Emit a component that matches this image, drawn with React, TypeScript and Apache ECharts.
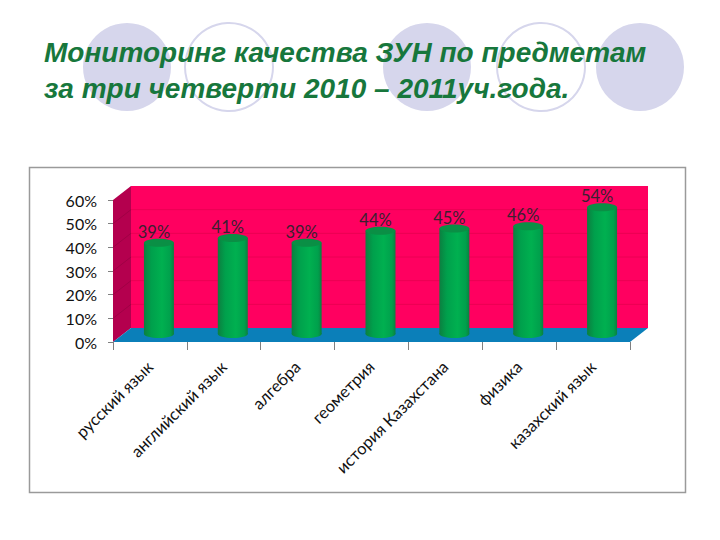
import React, { useEffect, useRef } from "react";
import * as echarts from "echarts";

const titleLines = ["Мониторинг качества ЗУН по предметам", "за три четверти 2010 – 2011уч.года."];
const categories = ["русский язык", "английский язык", "алгебра", "геометрия", "история Казахстана", "физика", "казахский язык"];
const values = [39, 41, 39, 44, 45, 46, 54];
const yTicks = [0, 10, 20, 30, 40, 50, 60];
const decorCircles = [
  { cx: 127, filled: true },
  { cx: 229, filled: false },
  { cx: 427, filled: true },
  { cx: 541, filled: false },
  { cx: 640, filled: true },
];

const DX = 18;
const DY = 14;
const BAR_W = 30;
const BAR_RY = 4;
const FONT = "Lato, 'Noto Sans', sans-serif";

export default function App() {
  const ref = useRef<HTMLDivElement>(null);
  useEffect(() => {
    const chart = echarts.init(ref.current!, null, { renderer: "svg" });

    const renderFrame = (params: any, api: any) => {
      const c = params.coordSys;
      const l = c.x, r = c.x + c.width, t = c.y, b = c.y + c.height;
      const children: any[] = [
        { type: "polygon", shape: { points: [[l + DX, t - DY], [r + DX, t - DY], [r + DX, b - DY], [l + DX, b - DY]] }, style: { fill: "#ff0060" } },
        { type: "polygon", shape: { points: [[l, t], [l + DX, t - DY], [l + DX, b - DY], [l, b]] }, style: { fill: "#b4004e" } },
        { type: "polygon", shape: { points: [[l, b], [l + DX, b - DY], [r + DX, b - DY], [r, b]] }, style: { fill: "#0b7fb9" } },
      ];
      yTicks.slice(1, -1).forEach((v) => {
        const y = api.coord([0, v])[1];
        children.push({ type: "line", shape: { x1: l + DX, y1: y - DY, x2: r + DX, y2: y - DY }, style: { stroke: "#ea0052", lineWidth: 1 } });
        children.push({ type: "line", shape: { x1: l, y1: y, x2: l + DX, y2: y - DY }, style: { stroke: "#a00045", lineWidth: 1 } });
      });
      return { type: "group", children };
    };

    const renderBar = (_params: any, api: any) => {
      const top = api.coord([api.value(0), api.value(1)]);
      const base = api.coord([api.value(0), 0]);
      const cx = top[0] + DX / 2;
      const yt = top[1] - DY / 2;
      const yb = base[1] - DY / 2 - 1;
      const grad = new echarts.graphic.LinearGradient(0, 0, 1, 0, [
        { offset: 0, color: "#0c7f40" },
        { offset: 0.25, color: "#00a04c" },
        { offset: 0.6, color: "#00b050" },
        { offset: 0.88, color: "#00a04c" },
        { offset: 1, color: "#0c7f40" },
      ]);
      return {
        type: "group",
        children: [
          { type: "ellipse", shape: { cx, cy: yb, rx: BAR_W / 2, ry: BAR_RY }, style: { fill: grad } },
          { type: "rect", shape: { x: cx - BAR_W / 2, y: yt, width: BAR_W, height: yb - yt }, style: { fill: grad } },
          { type: "ellipse", shape: { cx, cy: yt, rx: BAR_W / 2, ry: BAR_RY }, style: { fill: "#0a8f45" } },
          {
            type: "text",
            x: cx - 5,
            y: yt - 11,
            style: { text: `${api.value(1)}%`, fill: "#3a2030", font: `16.5px ${FONT}`, textAlign: "center", textVerticalAlign: "middle" },
          },
        ],
      };
    };

    chart.setOption({
      animation: false,
      backgroundColor: "#ffffff",
      title: {
        text: titleLines.join("\n"),
        left: 39,
        top: 29,
        textStyle: { color: "#17773c", fontFamily: "'Liberation Sans', Arial, sans-serif", fontStyle: "italic", fontWeight: "bold", fontSize: 28, lineHeight: 36 },
      },
      graphic: [
        ...decorCircles.map((d) => ({
          type: "circle",
          z: -10,
          shape: { cx: d.cx, cy: 67, r: 44 },
          style: d.filled ? { fill: "#d6d6ec" } : { fill: "#ffffff", stroke: "#d6d6ec", lineWidth: 2 },
        })),
        { type: "rect", z: -9, shape: { x: 29.5, y: 167.5, width: 656, height: 325 }, style: { fill: "#ffffff", stroke: "#9a9a9a", lineWidth: 1.5 } },
      ],
      grid: { left: 113, right: 90, top: 200, bottom: 198 },
      xAxis: {
        type: "category",
        data: categories,
        axisLine: { show: false },
        axisTick: { show: true, length: 8, lineStyle: { color: "#808080" } },
        axisLabel: { rotate: 45, interval: 0, margin: 22, color: "#111111", fontFamily: FONT, fontSize: 16.5 },
      },
      yAxis: {
        type: "value",
        min: 0,
        max: 60,
        interval: 10,
        axisLine: { show: false },
        axisTick: { show: true, length: 5, lineStyle: { color: "#808080" } },
        splitLine: { show: false },
        axisLabel: { formatter: "{value}%", margin: 16, color: "#111111", fontFamily: FONT, fontSize: 16 },
      },
      series: [
        { type: "custom", silent: true, clip: false, z: 1, renderItem: renderFrame, data: [[0, 0]], encode: { x: 0, y: 1 } },
        { type: "custom", clip: false, z: 2, renderItem: renderBar, data: values.map((v, i) => [i, v]), encode: { x: 0, y: 1 } },
      ],
    });
    return () => chart.dispose();
  }, []);
  return <div ref={ref} style={{ position: "fixed", left: 0, top: 0, width: 720, height: 540 }} />;
}
